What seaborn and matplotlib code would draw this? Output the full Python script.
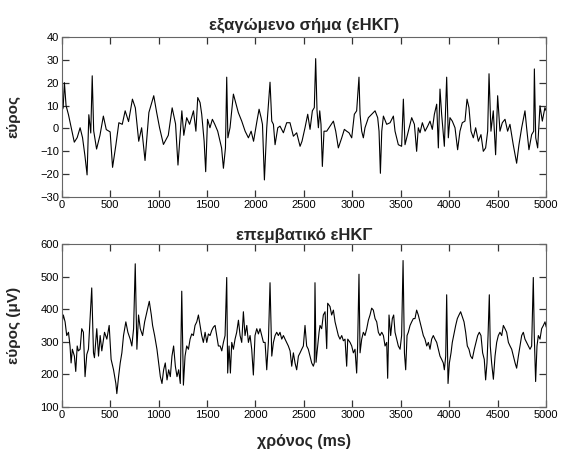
import matplotlib
matplotlib.use("Agg")
import matplotlib.pyplot as plt
import seaborn as sns
import pandas as pd

# ---- data ----
t_top = [0, 15, 28, 45, 70, 100, 130, 160, 190, 215, 240, 262, 280, 300, 315, 330, 360, 395, 430, 460,
         500, 525, 560, 590, 625, 655, 690, 730, 760, 795, 825, 860, 900, 950, 980, 1010, 1050, 1100, 1140, 1175,
         1200, 1240, 1260, 1290, 1320, 1360, 1385, 1404, 1428, 1445, 1470, 1486, 1505, 1530, 1555, 1580, 1610, 1634, 1650, 1669,
         1690, 1703, 1715, 1737, 1772, 1795, 1823, 1858, 1893, 1927, 1955, 1980, 2015, 2037, 2058, 2072, 2092, 2116, 2150, 2168,
         2185, 2202, 2230, 2253, 2288, 2322, 2356, 2391, 2425, 2460, 2480, 2511, 2539, 2563, 2587, 2607, 2621, 2635, 2649, 2663,
         2676, 2690, 2707, 2735, 2770, 2804, 2828, 2855, 2890, 2917, 2941, 2965, 2993, 3020, 3044, 3068, 3079, 3096, 3113, 3130,
         3165, 3199, 3234, 3261, 3275, 3289, 3303, 3320, 3354, 3389, 3423, 3440, 3474, 3508, 3526, 3543, 3577, 3612, 3640, 3663,
         3680, 3698, 3722, 3750, 3777, 3801, 3825, 3846, 3870, 3887, 3904, 3921, 3949, 3973, 3990, 4007, 4031, 4059, 4086, 4110,
         4134, 4162, 4183, 4203, 4224, 4248, 4272, 4300, 4327, 4351, 4375, 4396, 4410, 4430, 4454, 4478, 4499, 4523, 4547, 4575,
         4602, 4626, 4660, 4695, 4719, 4747, 4781, 4798, 4822, 4850, 4871, 4878, 4892, 4912, 4936, 4960, 4987, 5000]
v_top = [7.6, 9, 20, 10, 6, 0, -6, -4, 0.3, -4, -12, -20.3, 6, -2, 23, -1, -9, -3, 5.4, -0.5,
         -1.5, -17, -7, 2.5, 1.8, 7.7, 3, 12.8, 9, -5.6, 0.3, -14, 7, 14.3, 7, 0.3, -7, -3, 9, 2,
         -16, 7.7, -3, 4.7, 1.8, 7.7, -1.2, 13.5, 11.3, 6.2, -5.6, -18.9, 4, 0.3, 4, 1.8, -1.2, -5.6, -8.5, -17.4,
         -8.5, 22.4, -4.1, 0.3, 15, 11.3, 6.9, 3.2, -1.2, -4.1, -1.2, -5.6, 3.2, 8.4, 4.7, 1.8, -22.5, 0.3, 20.2, 3.2,
         1.8, -7.1, 0.3, 1, -1.9, 2.5, 2.5, -3.4, -1.9, -7.8, -5.6, 0.3, 6.2, -0.4, 7.7, 9.1, 30.5, 7.7, 0.3, 7.7,
         1.8, -16.6, -1.2, -1.2, 1, 3.2, -1.2, -8.5, -4.1, -0.4, -1.2, -1.9, -4.1, 6.2, 7.7, 22.4, 6.2, -1.2, -4.1, 0.3,
         4.7, 6.2, 7.7, 4.7, -1.2, -19.6, -1.2, 5.4, 1.8, 2.5, 5.4, -1.2, -7.1, -7.8, 12.8, -7.1, -1.2, 4.7, 1.8, -10,
         0.3, -1.9, 2.5, -1.2, 1, 3.2, -0.4, 6.2, 10.6, -8.5, 17.2, 6.2, -7.8, 22.4, -4.1, 4.7, 3.2, 0.3, -9.3, -1.2,
         2.5, 3.2, 12.8, 9.1, -1.2, -4.1, 0.3, -5.6, -2.7, -10, -8.5, -1.2, 23.9, -1.2, 7.7, -11.5, 14.3, -1.2, 2.5, 4,
         -1.2, 1.8, -7.1, -15.2, -7.1, 0.3, 7.7, 0.3, -9.3, -2.7, -1.2, 26, -4.1, -8.5, 9.9, 3.2, 9.1, 7.7]

t_bot = [0, 17, 35, 52, 70, 86, 97, 110, 131, 145, 160, 172, 190, 207, 224, 241, 259, 276, 310, 328,
         338, 362, 380, 397, 414, 442, 466, 490, 510, 535, 559, 569, 587, 604, 621, 638, 662, 683, 707, 724,
         742, 759, 776, 793, 811, 835, 856, 880, 904, 925, 938, 959, 983, 1000, 1018, 1035, 1052, 1069, 1087, 1104,
         1121, 1138, 1155, 1173, 1190, 1207, 1224, 1239, 1256, 1273, 1290, 1308, 1325, 1342, 1359, 1376, 1394, 1411, 1428, 1445,
         1462, 1480, 1497, 1514, 1531, 1549, 1566, 1583, 1600, 1617, 1635, 1652, 1669, 1686, 1703, 1713, 1727, 1741, 1755, 1772,
         1789, 1806, 1824, 1841, 1858, 1875, 1892, 1910, 1927, 1944, 1961, 1978, 1995, 2013, 2030, 2047, 2064, 2082, 2099, 2116,
         2133, 2150, 2168, 2185, 2202, 2219, 2236, 2253, 2271, 2288, 2305, 2339, 2357, 2374, 2391, 2408, 2425, 2443, 2460, 2477,
         2494, 2511, 2528, 2545, 2563, 2580, 2597, 2607, 2614, 2625, 2642, 2656, 2666, 2683, 2700, 2718, 2735, 2745, 2769, 2786,
         2804, 2821, 2838, 2855, 2872, 2890, 2907, 2924, 2941, 2952, 2976, 2993, 3010, 3027, 3044, 3054, 3068, 3079, 3096, 3113,
         3130, 3148, 3165, 3182, 3199, 3216, 3234, 3251, 3268, 3285, 3303, 3320, 3337, 3354, 3364, 3378, 3395, 3412, 3426, 3440,
         3457, 3474, 3492, 3508, 3523, 3537, 3550, 3564, 3577, 3595, 3612, 3629, 3646, 3663, 3680, 3698, 3715, 3732, 3749, 3767,
         3784, 3801, 3818, 3835, 3852, 3870, 3887, 3904, 3921, 3938, 3949, 3963, 3973, 3987, 4001, 4018, 4031, 4052, 4066, 4083,
         4100, 4117, 4134, 4152, 4169, 4186, 4203, 4220, 4238, 4258, 4276, 4293, 4310, 4327, 4344, 4361, 4375, 4389, 4400, 4413,
         4423, 4437, 4455, 4472, 4489, 4506, 4523, 4541, 4558, 4575, 4592, 4610, 4627, 4644, 4661, 4679, 4695, 4713, 4730, 4747,
         4764, 4781, 4798, 4816, 4833, 4850, 4867, 4877, 4891, 4905, 4919, 4936, 4953, 4971, 4988, 5000]
v_bot = [350, 382, 361, 319, 329, 287, 235, 277, 256, 209, 287, 272, 277, 340, 329, 193, 261, 277, 465, 266,
         251, 340, 256, 319, 272, 329, 308, 350, 246, 214, 172, 141, 193, 235, 266, 319, 361, 329, 308, 287,
         340, 539, 277, 382, 340, 319, 361, 392, 424, 382, 350, 319, 277, 235, 193, 172, 214, 235, 183, 214,
         193, 256, 287, 225, 193, 214, 172, 455, 167, 256, 287, 277, 308, 324, 319, 350, 361, 382, 350, 319,
         298, 329, 298, 324, 319, 335, 345, 350, 319, 287, 287, 272, 298, 319, 497, 204, 287, 204, 298, 277,
         308, 329, 366, 319, 298, 392, 319, 350, 298, 319, 277, 198, 319, 340, 324, 340, 319, 298, 298, 214,
         298, 481, 256, 298, 319, 329, 319, 329, 308, 319, 308, 287, 272, 225, 266, 235, 214, 256, 266, 277,
         287, 350, 287, 277, 256, 235, 225, 235, 481, 237, 287, 329, 350, 340, 382, 392, 279, 418, 408, 382,
         397, 361, 340, 319, 308, 319, 303, 308, 225, 308, 298, 287, 266, 277, 204, 287, 507, 266, 308, 329,
         319, 340, 366, 382, 403, 397, 371, 361, 329, 319, 329, 319, 287, 298, 188, 382, 319, 371, 382, 329,
         308, 287, 277, 319, 549, 266, 214, 319, 329, 350, 361, 371, 371, 397, 382, 361, 340, 319, 308, 287,
         298, 277, 308, 319, 308, 298, 277, 256, 246, 235, 214, 256, 444, 172, 235, 266, 298, 329, 350, 371,
         382, 392, 377, 361, 329, 287, 277, 256, 248, 277, 298, 319, 329, 319, 266, 246, 183, 235, 319, 444,
         287, 235, 185, 256, 298, 319, 329, 319, 350, 340, 329, 298, 287, 277, 256, 235, 219, 256, 287, 319,
         329, 308, 298, 287, 277, 287, 497, 319, 178, 287, 319, 308, 340, 350, 361, 345]

x_ticks = [0, 500, 1000, 1500, 2000, 2500, 3000, 3500, 4000, 4500, 5000]
top_yticks = [-30, -20, -10, 0, 10, 20, 30, 40]
bot_yticks = [100, 200, 300, 400, 500, 600]

title_top = "εξαγώμενο σήμα (εΗΚΓ)"
title_bot = "επεμβατικό εΗΚΓ"
ylabel_top = "εύρος"
ylabel_bot = "εύρος (μV)"
xlabel = "χρόνος (ms)"

sns.set_style("white")
plt.rcParams['font.family'] = ['Liberation Sans', 'DejaVu Sans']
plt.rcParams.update({
    "xtick.bottom": True, "xtick.top": True, "ytick.left": True, "ytick.right": True,
    "xtick.direction": "in", "ytick.direction": "in",
    "xtick.major.size": 5, "ytick.major.size": 5,
    "xtick.major.width": 0.9, "ytick.major.width": 0.9,
    "xtick.color": "#333333", "ytick.color": "#333333",
    "xtick.labelcolor": "black", "ytick.labelcolor": "black",
    "xtick.labelsize": 8, "ytick.labelsize": 8,
    "xtick.major.pad": 2, "ytick.major.pad": 2,
})

df_top = pd.DataFrame({"t": t_top, "v": v_top})
df_bot = pd.DataFrame({"t": t_bot, "v": v_bot})

fig = plt.figure(figsize=(5.66, 4.5), dpi=100)
ax1 = fig.add_axes([0.109, 0.562, 0.856, 0.356])
ax2 = fig.add_axes([0.109, 0.0956, 0.856, 0.3624])

sns.lineplot(data=df_top, x="t", y="v", ax=ax1, color="black", linewidth=0.8, estimator=None, sort=False)
sns.lineplot(data=df_bot, x="t", y="v", ax=ax2, color="black", linewidth=0.8, estimator=None, sort=False)

for ax, yt, (ylo, yhi) in [(ax1, top_yticks, (-30, 40)), (ax2, bot_yticks, (100, 600))]:
    ax.set_xlim(0, 5000)
    ax.set_ylim(ylo, yhi)
    ax.set_xticks(x_ticks)
    ax.set_yticks(yt)
    ax.xaxis.set_ticks_position("both")
    ax.yaxis.set_ticks_position("both")
    ax.tick_params(axis="both", which="major", direction="in", length=5, width=0.9,
                   color="#333333", labelbottom=True, labelleft=True,
                   labeltop=False, labelright=False)
    for s in ax.spines.values():
        s.set_color("#666666")
        s.set_linewidth(0.8)
    ax.set_xlabel("")

ax1.set_title(title_top, fontsize=12, fontweight="bold", pad=5)
ax2.set_title(title_bot, fontsize=12, fontweight="bold", pad=3)
ax1.set_ylabel(ylabel_top, fontsize=11, fontweight="bold")
ax2.set_ylabel(ylabel_bot, fontsize=11, fontweight="bold")
ax2.set_xlabel(xlabel, fontsize=11.5, fontweight="bold", labelpad=10)
ax1.yaxis.set_label_coords(-0.085, 0.5)
ax2.yaxis.set_label_coords(-0.085, 0.5)

fig.savefig("out.png", dpi=100, facecolor="white")
